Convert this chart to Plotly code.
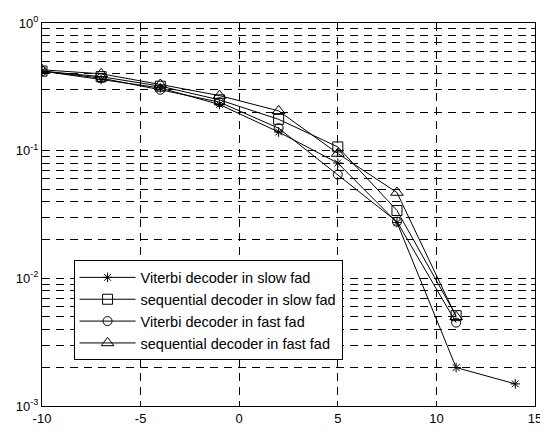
import plotly.graph_objects as go

snr = [-10, -7, -4, -1, 2, 5, 8, 11, 14]
viterbi_slow = [0.42, 0.36, 0.31, 0.23, 0.14, 0.080, 0.0274, 0.0020, 0.00149]
seq_slow = [0.42, 0.38, 0.32, 0.25, 0.176, 0.107, 0.034, 0.0051]
viterbi_fast = [0.42, 0.37, 0.30, 0.24, 0.15, 0.065, 0.0278, 0.0045]
seq_fast = [0.43, 0.40, 0.33, 0.27, 0.205, 0.095, 0.047, 0.0050]

names = ["Viterbi decoder in slow fad", "sequential decoder in slow fad",
         "Viterbi decoder in fast fad", "sequential decoder in fast fad"]
x_ticks = [-10, -5, 0, 5, 10, 15]
x_tick_text = ["-10", "-5", "0", "5", "10", "15"]
y_major = [1e-3, 1e-2, 1e-1, 1e0]
y_major_text = ["10<sup>-3</sup>", "10<sup>-2</sup>", "10<sup>-1</sup>", "10<sup>0</sup>"]

y_vals, y_text = [], []
for i, d in enumerate(y_major):
    y_vals.append(d)
    y_text.append(y_major_text[i])
    if d < 1:
        for m in range(2, 10):
            y_vals.append(d * m)
            y_text.append("")

series = [viterbi_slow, seq_slow, viterbi_fast, seq_fast]
symbols = ["asterisk-open", "square-open", "circle-open", "triangle-up-open"]
sizes = [8, 10, 9, 11]

fig = go.Figure()
for name, ys, sym, sz in zip(names, series, symbols, sizes):
    fig.add_trace(go.Scatter(
        x=snr[:len(ys)], y=ys, name=name, mode="lines+markers",
        line=dict(color="black", width=1),
        marker=dict(symbol=sym, size=sz, color="black", line=dict(color="black", width=1)),
    ))

# The page body has an 8px default margin, so the figure is 8px smaller
# and its left/top margins are reduced by 8px.
font = dict(family="Liberation Sans, Arial, sans-serif", size=13, color="black")
fig.update_layout(
    width=540, height=424,
    margin=dict(l=34, r=6, t=9, b=25),
    paper_bgcolor="white", plot_bgcolor="white",
    font=font,
    showlegend=True,
    legend=dict(
        x=0.064, y=0.38, xanchor="left", yanchor="top",
        bgcolor="white", bordercolor="black", borderwidth=1,
        font=dict(family="Liberation Sans, Arial, sans-serif", size=14.5, color="black"),
        itemwidth=56, tracegroupgap=0,
    ),
    xaxis=dict(
        range=[-10, 15], tickvals=x_ticks, ticktext=x_tick_text, ticks="inside", ticklen=5,
        tickcolor="black", showline=True, linecolor="black", linewidth=1, mirror="ticks",
        showgrid=True, gridcolor="black", gridwidth=1, griddash="8px,6px",
        zeroline=False, tickfont=font, ticklabeloverflow="allow",
    ),
    yaxis=dict(
        type="log", range=[-3, 0], tickvals=y_vals, ticktext=y_text,
        ticks="inside", ticklen=4, tickcolor="black",
        showline=True, linecolor="black", linewidth=1, mirror="ticks",
        showgrid=True, gridcolor="black", gridwidth=1, griddash="8px,6px",
        zeroline=False, tickfont=font,
    ),
)

fig.write_html("out.html")
